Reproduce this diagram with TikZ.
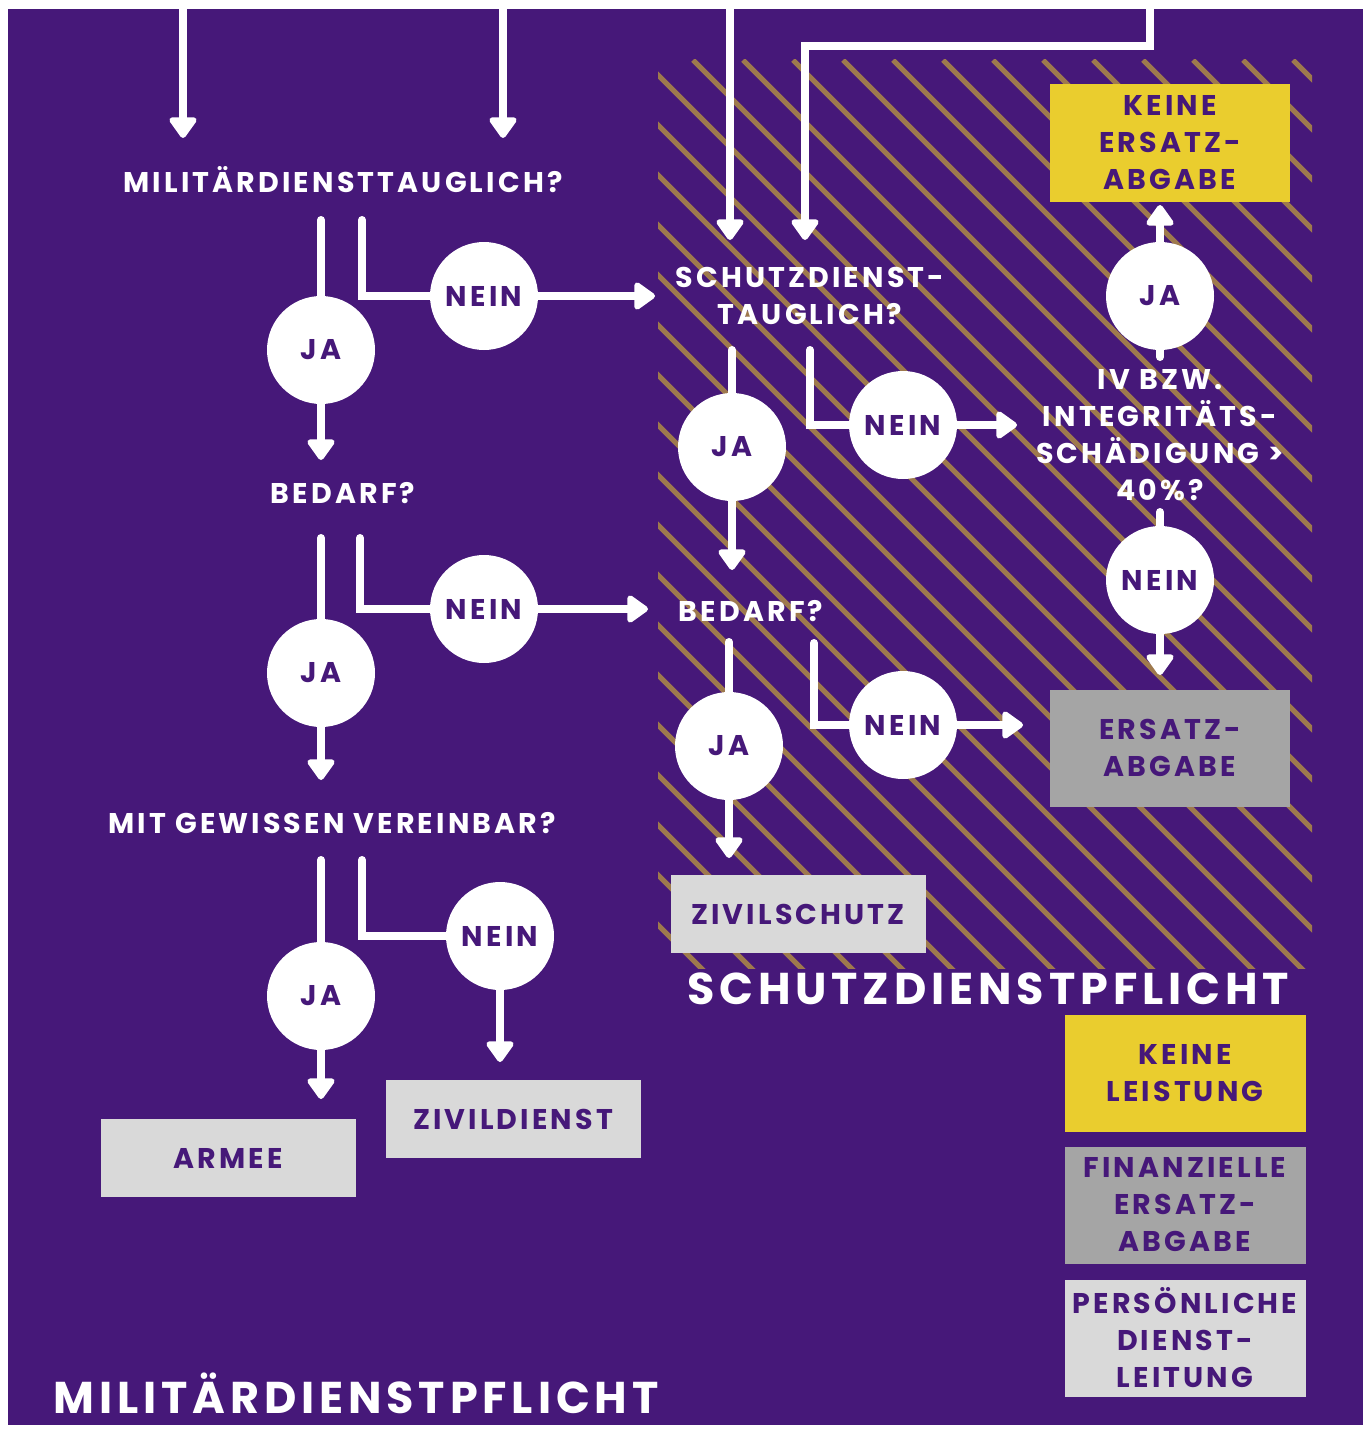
\documentclass[tikz,border=0pt]{standalone}
\usepackage{fontspec}
\setmainfont{Poppins}[LetterSpace=11]
\usetikzlibrary{arrows.meta}
\definecolor{mypurple}{RGB}{70,24,121}
\definecolor{mygold}{RGB}{158,121,77}
\definecolor{myyellow}{RGB}{234,205,46}
\definecolor{mygray}{RGB}{165,165,165}
\definecolor{mylight}{RGB}{217,217,217}
\newcommand{\boxfont}{\bfseries\fontsize{28.5}{37}\selectfont}
\newcommand{\titlefont}{\bfseries\fontsize{44.5}{50}\selectfont}
\tikzset{
    frage/.style={
           text=white,
           align=center,
           inner sep=0pt,
           font=\boxfont,
           },
    antwort/.style={
           circle,
           fill=white,
           text=mypurple,
           minimum size=108pt,
           inner sep=0pt,
           font=\boxfont,
           },
    ergebnis/.style={
           rectangle,
           text=mypurple,
           minimum width=255pt,
           minimum height=78pt,
           align=center,
           font=\boxfont,
           },
    legende/.style={ergebnis, minimum width=241pt, minimum height=117pt},
    titel/.style={text=white, inner sep=0pt, font=\titlefont},
    linie/.style={draw=white, line width=8pt, line cap=round},
    pfeil/.style={linie, -{Triangle[width=31pt,length=23pt,round]}},
    schraffur/.style={draw=mygold, line width=5pt},
}

\begin{document}
\begin{tikzpicture}[x=1pt, y=-1pt]
  \useasboundingbox (0,0) rectangle (1363,1434);
  \fill[white] (0,0) rectangle (1363,1434);
  \fill[mypurple] (8,9) rectangle (1363,1425);
  % Schutzdienst area
  \begin{scope}
    \clip (658,60) rectangle (1312,968);
    \foreach \x in {-257,-207,...,1343} \draw[schraffur] (\x,60) -- ++(920,920);
  \end{scope}
  % questions
  \node[frage] (F1) at (343,180) {MILITÄRDIENSTTAUGLICH?};
  \node[frage] (F2) at (343,493) {BEDARF?};
  \node[frage] (F3) at (332,823) {MIT GEWISSEN VEREINBAR?};
  \node[frage] (F4) at (810,296) {SCHUTZDIENST-\\TAUGLICH?};
  \node[frage] (F5) at (751,611) {BEDARF?};
  \node[frage] (F6) at (1160,435) {IV BZW.\\INTEGRITÄTS-\\SCHÄDIGUNG >\\40\%?};
  % answers
  \node[antwort] (J1) at (321,350) {JA};
  \node[antwort] (N1) at (484,296) {NEIN};
  \node[antwort] (J2) at (321,673) {JA};
  \node[antwort] (N2) at (484,609) {NEIN};
  \node[antwort] (J3) at (321,996) {JA};
  \node[antwort] (N3) at (500,936) {NEIN};
  \node[antwort] (J4) at (732,447) {JA};
  \node[antwort] (N4) at (903,425) {NEIN};
  \node[antwort] (J5) at (729,746) {JA};
  \node[antwort] (N5) at (903,725) {NEIN};
  \node[antwort] (J6) at (1160,296) {JA};
  \node[antwort] (N6) at (1160,580) {NEIN};
  % results
  \node[ergebnis, fill=myyellow, minimum width=240pt, minimum height=118pt] (K) at (1170,143) {KEINE\\ERSATZ-\\ABGABE};
  \node[ergebnis, fill=mygray, minimum width=240pt, minimum height=117pt]   (E) at (1170,748) {ERSATZ-\\ABGABE};
  \node[ergebnis, fill=mylight] (Z) at (798,914)  {ZIVILSCHUTZ};
  \node[ergebnis, fill=mylight] (A) at (228,1158) {ARMEE};
  \node[ergebnis, fill=mylight] (D) at (513,1119) {ZIVILDIENST};
  % legend
  \node[legende, fill=myyellow] (L1) at (1185,1073) {KEINE\\LEISTUNG};
  \node[legende, fill=mygray]   (L2) at (1185,1205) {FINANZIELLE\\ERSATZ-\\ABGABE};
  \node[legende, fill=mylight]  (L3) at (1185,1338) {PERSÖNLICHE\\DIENST-\\LEITUNG};
  \node[titel] (T1) at (988,989)  {SCHUTZDIENSTPFLICHT};
  \node[titel] (T2) at (356,1393) {MILITÄRDIENSTPFLICHT};
  % free ends
  \coordinate (t1) at (183,9);   \coordinate (t1e) at (183,138);
  \coordinate (t2) at (503,9);   \coordinate (t2e) at (503,138);
  \coordinate (t3) at (730,9);   \coordinate (t3e) at (730,240);
  \coordinate (t4) at (1150,9);  \coordinate (t4m) at (805,46);  \coordinate (t4e) at (805,240);
  \coordinate (a1) at (321,220); \coordinate (b1) at (362,220);
  \coordinate (a1e) at (321,460); \coordinate (b1e) at (655,296);
  \coordinate (a2) at (321,538); \coordinate (b2) at (360,538);
  \coordinate (a2e) at (321,780); \coordinate (b2e) at (648,609);
  \coordinate (a3) at (321,860); \coordinate (b3) at (362,860);
  \coordinate (a3e) at (321,1099); \coordinate (b3e) at (500,1062);
  \coordinate (a4) at (732,350); \coordinate (b4) at (810,350);
  \coordinate (a4e) at (732,570); \coordinate (b4e) at (1017,425);
  \coordinate (a5) at (729,642); \coordinate (b5) at (814,643);
  \coordinate (a5e) at (729,858); \coordinate (b5e) at (1023,725);
  \coordinate (a6) at (1160,357); \coordinate (a6e) at (1160,205);
  \coordinate (b6) at (1160,512); \coordinate (b6e) at (1160,675);
  % connectors
  \draw[pfeil] (t1) -- (t1e);
  \draw[pfeil] (t2) -- (t2e);
  \draw[pfeil] (t3) -- (t3e);
  \draw[pfeil] (t4) |- (t4m) -- (t4e);
  \draw[linie] (a1) -- (J1);  \draw[pfeil] (J1) -- (a1e);
  \draw[linie] (b1) |- (N1);  \draw[pfeil] (N1) -- (b1e);
  \draw[linie] (a2) -- (J2);  \draw[pfeil] (J2) -- (a2e);
  \draw[linie] (b2) |- (N2);  \draw[pfeil] (N2) -- (b2e);
  \draw[linie] (a3) -- (J3);  \draw[pfeil] (J3) -- (a3e);
  \draw[linie] (b3) |- (N3);  \draw[pfeil] (N3) -- (b3e);
  \draw[linie] (a4) -- (J4);  \draw[pfeil] (J4) -- (a4e);
  \draw[linie] (b4) |- (N4);  \draw[pfeil] (N4) -- (b4e);
  \draw[linie] (a5) -- (J5);  \draw[pfeil] (J5) -- (a5e);
  \draw[linie] (b5) |- (N5);  \draw[pfeil] (N5) -- (b5e);
  \draw[linie] (a6) -- (J6);  \draw[pfeil] (J6) -- (a6e);
  \draw[linie] (b6) -- (N6);  \draw[pfeil] (N6) -- (b6e);
\end{tikzpicture}
\end{document}
